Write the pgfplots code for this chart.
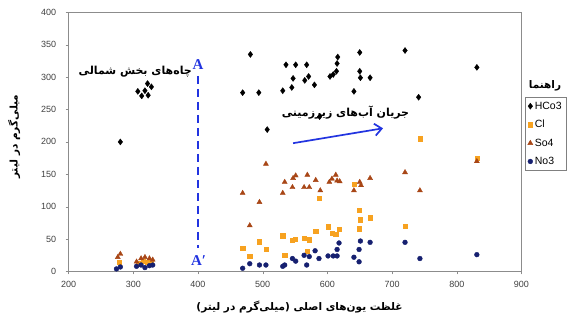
\documentclass[border=0pt]{standalone}
\usepackage{pgfplots}
\pgfplotsset{compat=1.18}
\usepackage{fontspec}
\usetikzlibrary{arrows.meta}
\setmainfont{Liberation Sans}
\newfontfamily\fa[Script=Arabic]{DejaVu Sans}
\newfontfamily\serifb{Liberation Serif}
\TeXXeTstate=1
\definecolor{cOr}{RGB}{247,162,32}
\definecolor{cBr}{RGB}{168,70,22}
\definecolor{cNv}{RGB}{22,32,112}
\definecolor{cBl}{RGB}{34,52,224}
\begin{document}
\begin{tikzpicture}[x=1pt,y=1pt]
\begin{axis}[
  name=ax,
  scale only axis, width=452.9pt, height=259.2pt,
  xmin=200, xmax=900, ymin=0, ymax=400,
  xtick={200,300,...,900}, ytick={0,50,...,400},
  axis line style={black!45}, tick style={black!45},
  tick align=outside, major tick length=3pt,
  xtick pos=bottom, ytick pos=left,
  clip=false,
  /pgf/number format/assume math mode=true,
  /pgf/number format/1000 sep={},
  tick label style={font=\fontsize{9}{10}\selectfont, text=black!75},
  yticklabel style={xshift=-6pt},
  xticklabel style={yshift=-3pt},
  xlabel={\fa\bfseries\beginR غلظت یون‌های اصلی (میلی‌گرم در لیتر)\endR},
  xlabel style={at={(axis description cs:0.51,-0.137)}, anchor=center, font=\fontsize{10.5}{12}\selectfont},
  ylabel={\fa\bfseries\beginR میلی‌گرم در لیتر\endR},
  ylabel style={at={(axis description cs:-0.12,0.52)}, anchor=center, font=\fontsize{10.5}{12}\selectfont},
  legend style={at={(axis description cs:1.008,0.673)}, anchor=north west,
    draw=black!50, font=\fontsize{10.5}{12}\selectfont, row sep=5.5pt,
    inner sep=2.5pt, cells={anchor=west}},
  legend image code/.code={\draw[#1] plot coordinates {(3pt,0pt)};},
]
\addplot[only marks, mark=diamond*, mark size=3pt, black] coordinates {
(280,200)
(307,278)(313,271)(318,279)(323,272)(328,285)(322,290)
(469,276)(481,335)(494,276)(507,219)(531,279)(536,319)(545,284)(547,298)(551,319)(565,295)(568,319)(571,301)(580,288)(588,239)(604,301)(609,304)(614,309)(615,321)(616,331)(641,278)(650,338)(650,309)(651,299)(666,299)(720,341)(741,269)(831,315)
};
\addlegendentry{HCo3}
\addplot[only marks, mark=square*, mark size=2.2pt, cOr] coordinates {
(278,14)
(308,12)(315,16)(322,14)(328,13)
(469,36)(480,24)(495,46)(505,34)(531,55)(534,25)(546,48)(550,50)(564,51)(569,31)(572,49)(582,62)(587,113)(601,69)(607,59)(613,58)(618,65)(641,135)(649,95)(649,66)(651,80)(666,83)(720,70)(743,205)(832,175)
};
\addlegendentry{Cl}
\addplot[only marks, mark=triangle*, mark size=2.9pt, cBr] coordinates {
(280,27)(276,22)
(305,15)(312,20)(318,22)(325,20)(330,18)
(469,121)(480,71)(495,107)(505,166)(531,121)(534,138)(546,130)(547,144)(551,148)(564,130)(569,149)(572,130)(582,141)(589,125)(603,138)(607,143)(613,149)(615,140)(619,139)(641,125)(650,138)(652,133)(666,144)(720,153)(743,125)(831,170)
};
\addlegendentry{So4}
\addplot[only marks, mark=*, mark size=2.4pt, cNv] coordinates {
(274,4)(280,7)
(305,8)(312,10)(318,6)(325,9)(330,10)
(469,5)(480,12)(495,10)(505,10)(531,8)(534,10)(546,20)(551,16)(564,25)(568,10)(572,23)(581,32)(587,20)(601,24)(609,24)(615,24)(615,34)(618,44)(641,22)(649,15)(649,34)(651,47)(666,45)(720,45)(743,20)(831,26)
};
\addlegendentry{No3}
% section line A-A'
\addplot[cBl, line width=2.8pt, dash pattern=on 8pt off 5pt, forget plot] coordinates {(400,302)(400,36)};
% flow arrow
\addplot[cBl, line width=1.7pt, -{Straight Barb[length=7pt,width=12pt,line width=1.7pt]}, forget plot] coordinates {(547,198)(686,221)};
\node[text=cBl, font=\serifb\bfseries\fontsize{15}{16}\selectfont] at (axis cs:400,320) {A};
\node[text=cBl, font=\serifb\bfseries\fontsize{15}{16}\selectfont] at (axis cs:401,17) {A′};
\node[font=\fa\bfseries\fontsize{11}{12}\selectfont] at (axis cs:303,309) {\beginR چاه‌های بخش شمالی\endR};
\node[font=\fa\bfseries\fontsize{11}{12}\selectfont] at (axis cs:628,245) {\beginR جریان آب‌های زیرزمینی\endR};
\node[font=\fa\bfseries\fontsize{10.5}{12}\selectfont] at (axis description cs:1.052,0.716) {\beginR راهنما\endR};
\end{axis}
\pgfresetboundingbox
\path[use as bounding box] (-68.6,-57.5) rectangle (513.4,271.5);
\end{tikzpicture}
\end{document}
